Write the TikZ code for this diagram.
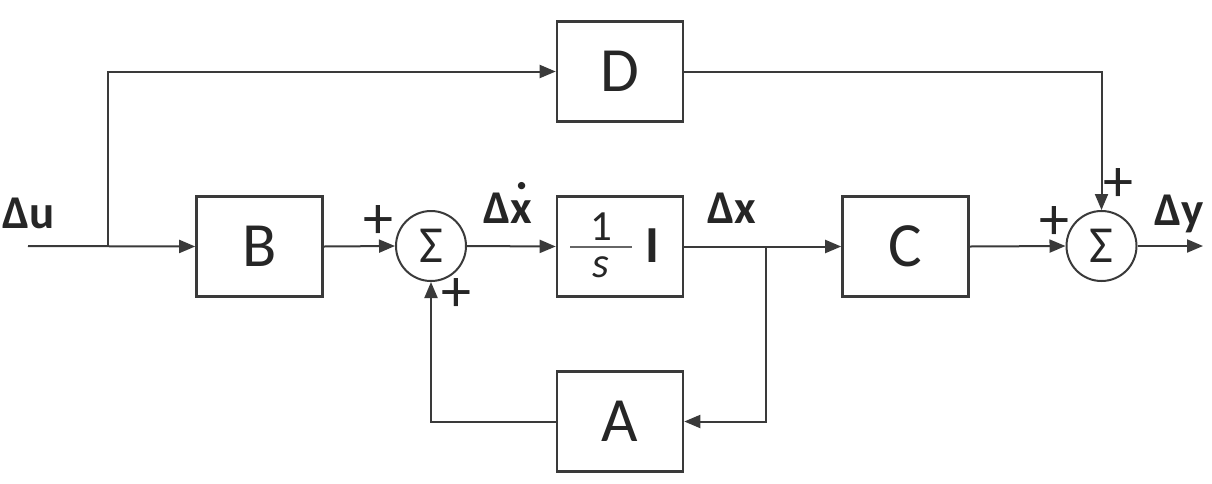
\documentclass[tikz,border=0pt]{standalone}
\usepackage{fontspec}
\setmainfont{Carlito}
\usetikzlibrary{arrows.meta}
\definecolor{lc}{HTML}{3A3A3A}
\definecolor{tc}{HTML}{262626}
\begin{document}
\begin{tikzpicture}[x=1pt,y=-1pt,
  line/.style={draw=lc, line width=2pt},
  arr/.style={line, -{Triangle[length=16pt,width=13pt]}},
  blk/.style={draw=lc, line width=2.6pt, minimum width=126pt, minimum height=100pt, inner sep=0pt, font=\fontsize{63}{63}\selectfont, text=tc},
  sumnode/.style={circle, draw=lc, line width=2pt, minimum size=70pt, inner sep=0pt, font=\fontsize{52}{52}\selectfont, text=tc},
  sig/.style={font=\bfseries\fontsize{47}{47}\selectfont, anchor=base, inner sep=0pt, text=tc},
  pl/.style={font=\fontsize{60}{60}\selectfont, inner sep=0pt, text=tc},
  fr/.style={anchor=base, inner sep=0pt, text=tc, font=\fontsize{43}{43}\selectfont}]
\useasboundingbox[fill=white] (0,0) rectangle (1212,483);

% blocks
\node[blk] (D) at (620,71.5) {D};
\node[blk] (B) at (259.5,246.5) {B};
\node[blk] (I) at (620,246.5) {};
\node[blk] (C) at (905.5,246.5) {C};
\node[blk] (A) at (620,421.5) {A};
\node[sumnode] (S1) at (431,246) {Σ};
\node[sumnode] (S2) at (1101.5,246) {Σ};

% content of integrator
\node[fr] (one) at (601,240) {1};
\node[fr, font=\itshape\fontsize{43}{43}\selectfont] (ess) at (601,277) {s};
\draw[draw=gray!80!black, line width=1.6pt] (570,247) -- (632,247);
\node[anchor=base, inner sep=0pt, text=tc, font=\bfseries\fontsize{52}{52}\selectfont] (eye) at (652,262) {I};

% coordinates
\coordinate (in) at (28,246);
\coordinate (br) at (108,246);
\coordinate (tap) at (766,246);
\coordinate (out) at (1203,246);

% connectors
\draw[arr] (in) -- (B.west);
\draw[arr] (br) |- (D.west);
\draw[arr] (D.east) -| (S2.north);
\draw[arr] (B.east) -- (S1.west);
\draw[arr] (S1.east) -- (I.west);
\draw[arr] (I.east) -- (C.west);
\draw[arr] (C.east) -- (S2.west);
\draw[arr] (S2.east) -- (out);
\draw[arr] (tap) |- (A.east);
\draw[arr] (A.west) -| (S1.south);

% signal labels
\node[sig] (du) at (29,228) {Δu};
\node[sig] (dxd) at (508,223) {Δ\ooalign{x\cr\hidewidth\raisebox{0.15em}{˙}\hidewidth\cr}};
\node[sig] (dx) at (732,223) {Δx};
\node[sig] (dy) at (1179,225) {Δy};

% signs
\node[pl] (p1) at (378,222) {+};
\node[pl] (p2) at (456,295) {+};
\node[pl] (p3) at (1054,223) {+};
\node[pl] (p4) at (1118,185) {+};
\end{tikzpicture}
\end{document}
